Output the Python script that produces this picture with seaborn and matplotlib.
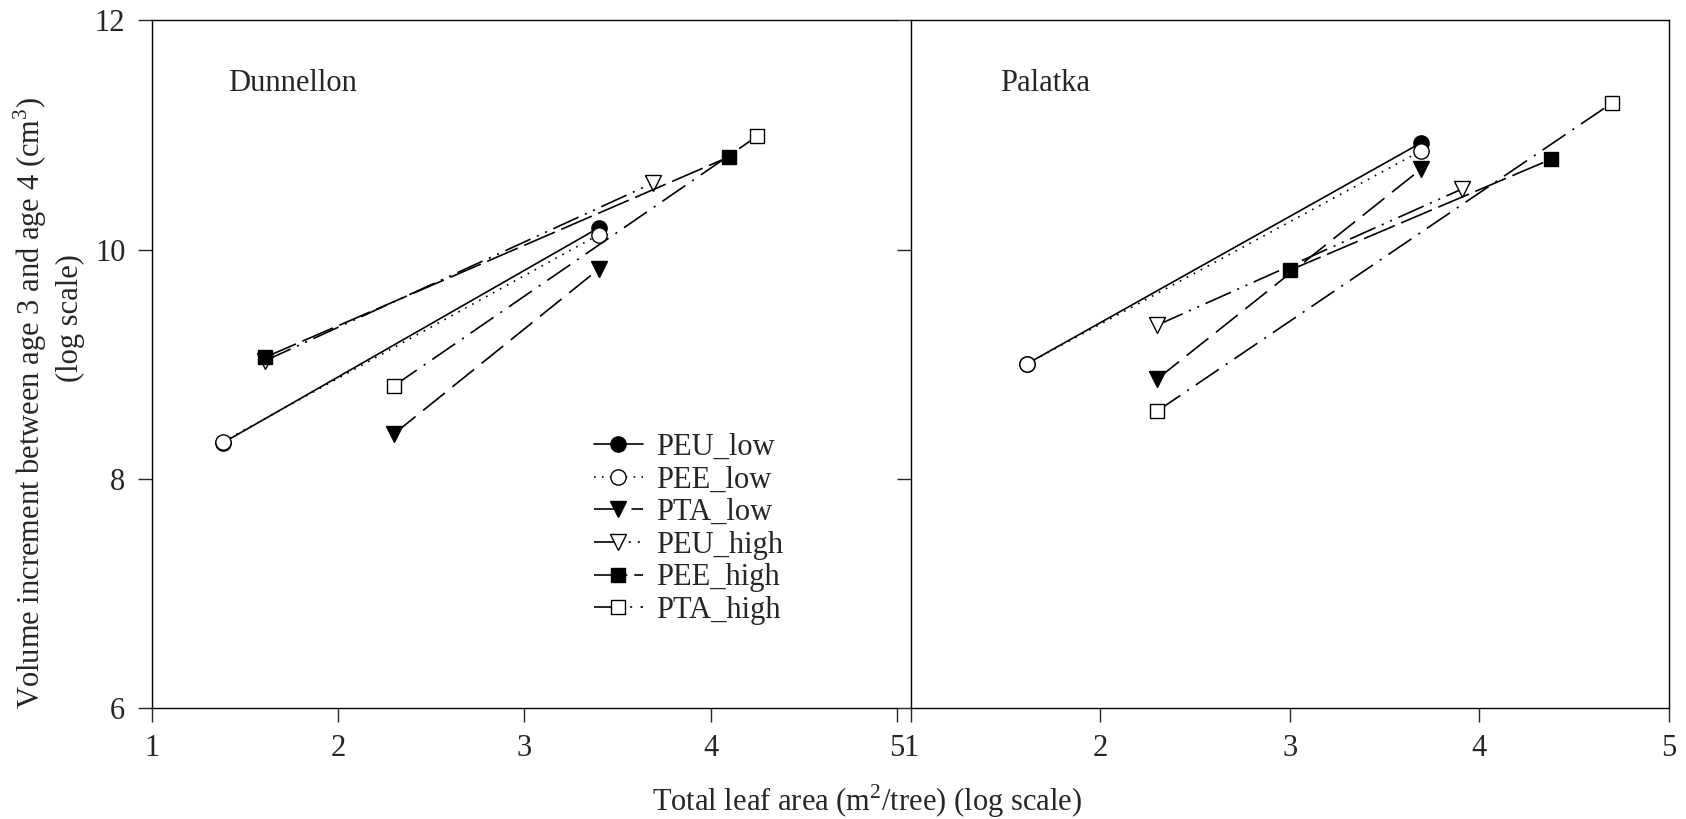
import pandas as pd
import matplotlib
matplotlib.use("Agg")
import matplotlib.pyplot as plt
import seaborn as sns

# series names in legend order
series = ["PEU_low", "PEE_low", "PTA_low", "PEU_high", "PEE_high", "PTA_high"]

# Dunnellon: (log leaf area, log volume increment), two points per series
dun_x = {
    "PEU_low": [1.38, 3.40],
    "PEE_low": [1.38, 3.40],
    "PTA_low": [2.30, 3.40],
    "PEU_high": [1.61, 3.69],
    "PEE_high": [1.61, 4.10],
    "PTA_high": [2.30, 4.25],
}
dun_y = {
    "PEU_low": [8.31, 10.19],
    "PEE_low": [8.32, 10.13],
    "PTA_low": [8.39, 9.83],
    "PEU_high": [9.03, 10.58],
    "PEE_high": [9.06, 10.81],
    "PTA_high": [8.81, 10.99],
}

# Palatka
pal_x = {
    "PEU_low": [1.61, 3.69],
    "PEE_low": [1.61, 3.69],
    "PTA_low": [2.30, 3.69],
    "PEU_high": [2.30, 3.91],
    "PEE_high": [3.00, 4.38],
    "PTA_high": [2.30, 4.70],
}
pal_y = {
    "PEU_low": [9.00, 10.93],
    "PEE_low": [9.00, 10.86],
    "PTA_low": [8.87, 10.70],
    "PEU_high": [9.34, 10.53],
    "PEE_high": [9.82, 10.79],
    "PTA_high": [8.59, 11.28],
}

x_ticks = [1, 2, 3, 4, 5]
y_ticks = [6, 8, 10, 12]

# marker / fill / dash pattern for each series
styles = {
    "PEU_low": dict(marker="o", markerfacecolor="black", markersize=11, linestyle="-"),
    "PEE_low": dict(marker="o", markerfacecolor="white", markersize=11, linestyle=(0, (1.2, 4.5))),
    "PTA_low": dict(marker="v", markerfacecolor="black", markersize=11, linestyle=(0, (20, 7))),
    "PEU_high": dict(marker="v", markerfacecolor="white", markersize=11,
                     linestyle=(0, (20, 5, 1.5, 5, 1.5, 5))),
    "PEE_high": dict(marker="s", markerfacecolor="black", markersize=9.5, linestyle=(0, (24, 5))),
    "PTA_high": dict(marker="s", markerfacecolor="white", markersize=9.5,
                     linestyle=(0, (20, 6, 1.5, 6))),
}

FS = 22


def to_frame(xs, ys):
    rows = []
    for name in series:
        for x, y in zip(xs[name], ys[name]):
            rows.append({"series": name, "x": x, "y": y})
    return pd.DataFrame(rows)


sns.set_style("ticks")
plt.rcParams["font.family"] = ["Liberation Serif", "DejaVu Serif"]
plt.rcParams["mathtext.fontset"] = "custom"
plt.rcParams["mathtext.rm"] = "Liberation Serif"
plt.rcParams["lines.scale_dashes"] = False

fig = plt.figure(figsize=(16.86, 8.19), dpi=100)
ax_l = fig.add_axes([0.090, 0.136, 0.442, 0.839])
ax_r = fig.add_axes([0.5403, 0.136, 0.4496, 0.839])

for ax, xs, ys, site in [(ax_l, dun_x, dun_y, "Dunnellon"), (ax_r, pal_x, pal_y, "Palatka")]:
    df = to_frame(xs, ys)
    for name in series:
        sns.lineplot(
            data=df[df["series"] == name], x="x", y="y", ax=ax,
            color="black", linewidth=1.2, markeredgecolor="black",
            markeredgewidth=1.0, label=name, sort=False,
            errorbar=None, legend=False, **styles[name],
        )
    ax.set_xlim(1, 5)
    ax.set_ylim(6, 12)
    ax.set_xticks(x_ticks)
    ax.set_yticks(y_ticks)
    ax.set_xlabel("")
    ax.set_ylabel("")
    ax.tick_params(direction="out", length=10, width=1.0, labelsize=FS, pad=9)
    for sp in ax.spines.values():
        sp.set_linewidth(1.0)
        sp.set_color("black")
    ax.text(0.102 if site == "Dunnellon" else 0.117, 0.909, site,
            transform=ax.transAxes, fontsize=FS, va="center", ha="left")

ax_l.spines["right"].set_visible(False)
ax_r.tick_params(axis="y", labelleft=False)
ax_l.set_xticklabels([str(t) for t in x_ticks])
ax_r.set_xticklabels([str(t) for t in x_ticks])

# y label: two separately placed lines, as in the original
fig.text(0.0178, 0.508, "Volume increment between age 3 and age 4 (cm$^3$)",
         rotation=90, ha="center", va="center", fontsize=FS)
fig.text(0.0415, 0.612, "(log scale)",
         rotation=90, ha="center", va="center", fontsize=FS)

handles, labels = ax_l.get_legend_handles_labels()
ax_l.legend(handles, labels, loc="upper left", bbox_to_anchor=(0.593, 0.40),
            frameon=False, fontsize=FS, handlelength=1.6, handletextpad=0.45,
            labelspacing=0.12, borderaxespad=0, borderpad=0)

fig.text(0.514, 0.022, "Total leaf area (m$^2$/tree) (log scale)",
         ha="center", va="center", fontsize=FS)

fig.savefig("out.png", dpi=100)
